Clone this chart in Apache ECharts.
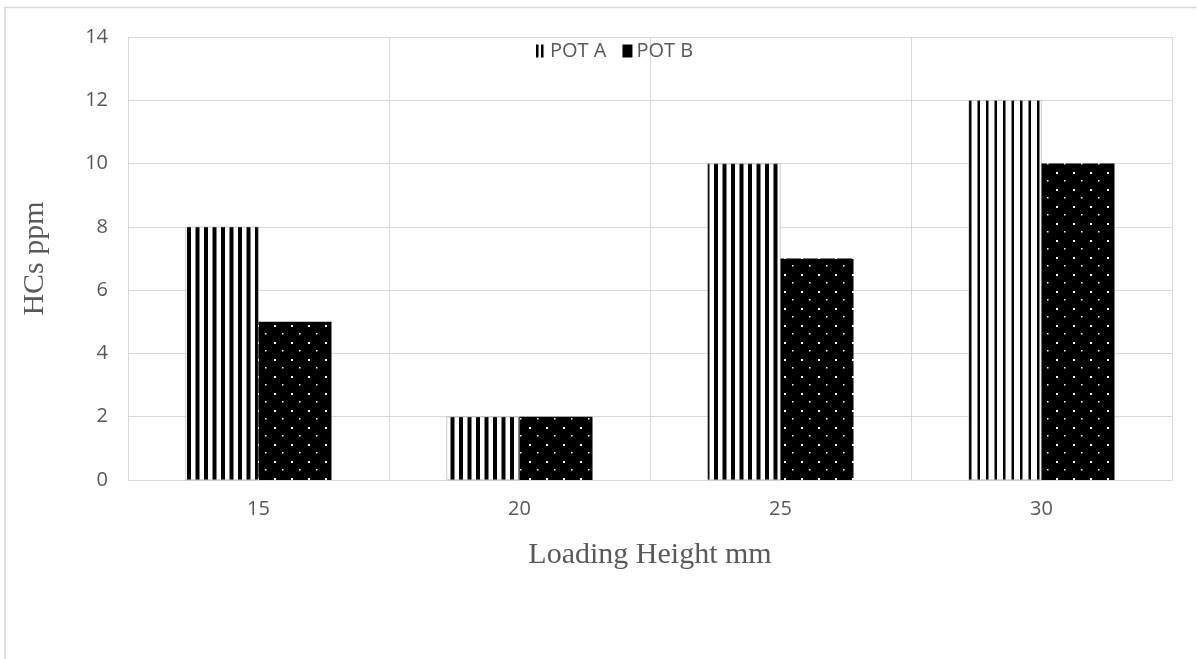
<!DOCTYPE html>
<html>
<head>
<meta charset="utf-8">
<script src="https://cdn.jsdelivr.net/npm/echarts@6/dist/echarts.min.js"></script>
<style>html,body{margin:0;padding:0;background:#fff}#c{width:1197px;height:659px}</style>
</head>
<body>
<div id="c"></div>
<script>
const categories = ['15', '20', '25', '30'];
const potA = [8, 2, 10, 12];
const potB = [5, 2, 7, 10];
const seriesNames = ['POT A', 'POT B'];

function stripes(black) {
  const c = document.createElement('canvas');
  c.width = 17; c.height = 8;
  const g = c.getContext('2d');
  g.fillStyle = '#fff'; g.fillRect(0, 0, c.width, c.height);
  g.fillStyle = '#000';
  g.fillRect(0, 0, black, 8);
  g.fillRect(8.5, 0, black, 8);
  return c;
}
function dots() {
  const c = document.createElement('canvas');
  c.width = 17; c.height = 17;
  const g = c.getContext('2d');
  g.fillStyle = '#000'; g.fillRect(0, 0, 17, 17);
  g.fillStyle = '#fff';
  g.fillRect(2, 2, 2, 2);
  g.fillRect(10, 10, 1.5, 1.5);
  return c;
}
function legendStripes() {
  const c = document.createElement('canvas');
  c.width = 5; c.height = 4;
  const g = c.getContext('2d');
  g.fillStyle = '#fff'; g.fillRect(0, 0, 5, 4);
  g.fillStyle = '#000'; g.fillRect(0, 0, 2.5, 4);
  return c;
}
const stripeFill = { image: stripes(4), repeat: 'repeat' };
const stripeThin = { image: stripes(2.5), repeat: 'repeat' };
const dotFill = { image: dots(), repeat: 'repeat' };

const chart = echarts.init(document.getElementById('c'));
chart.setOption({
  animation: false,
  backgroundColor: '#fff',
  graphic: [{
    type: 'polyline', shape: { points: [[5, 700], [5, 7.5], [1196, 7.5]] },
    style: { stroke: '#d9d9d9', lineWidth: 1.5, fill: null }, silent: true
  }],
  legend: {
    top: 36, left: 531,
    icon: 'rect',
    itemWidth: 10, itemHeight: 13, itemGap: 16,
    textStyle: { color: '#595959', fontSize: 20, fontFamily: 'Open Sans', padding: [0, 0, 0, -1] },
    data: [
      { name: seriesNames[0], itemStyle: { color: { image: legendStripes(), repeat: 'repeat' }, borderWidth: 0 } },
      { name: seriesNames[1], itemStyle: { color: '#000' } }
    ]
  },
  grid: { left: 128, right: 25, top: 37, bottom: 179, containLabel: false },
  xAxis: {
    type: 'category', data: categories,
    name: 'Loading Height mm', nameLocation: 'middle', nameGap: 60,
    nameTextStyle: { fontFamily: 'Liberation Serif', fontSize: 30, color: '#595959' },
    axisLine: { lineStyle: { color: '#d9d9d9' } },
    axisTick: { show: false },
    axisLabel: { color: '#595959', fontSize: 20, fontFamily: 'Open Sans', margin: 19 },
    splitLine: { show: true, lineStyle: { color: '#d9d9d9' } }
  },
  yAxis: {
    type: 'value', min: 0, max: 14, interval: 2,
    name: 'HCs ppm', nameLocation: 'middle', nameGap: 78,
    nameTextStyle: { fontFamily: 'Liberation Serif', fontSize: 30, color: '#595959' },
    axisLine: { show: false }, axisTick: { show: false },
    axisLabel: { color: '#595959', fontSize: 20, fontFamily: 'Open Sans', margin: 20 },
    splitLine: { lineStyle: { color: '#d9d9d9' } }
  },
  series: [
    {
      name: seriesNames[0], type: 'bar', barWidth: 73, barGap: '0%',
      itemStyle: { color: stripeFill, borderColor: '#999', borderWidth: 0.5 },
      data: potA.map((v, i) => i === 3 ? { value: v, itemStyle: { color: stripeThin } } : v)
    },
    {
      name: seriesNames[1], type: 'bar', barWidth: 73, barGap: '0%',
      itemStyle: { color: dotFill },
      data: potB
    }
  ]
});
</script>
</body>
</html>
